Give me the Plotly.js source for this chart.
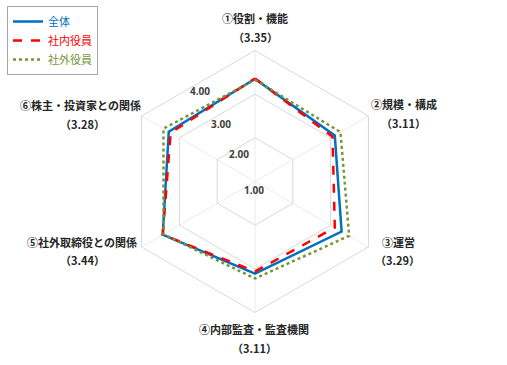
<!DOCTYPE html>
<html>
<head>
<meta charset="utf-8">
<script src="https://cdn.plot.ly/plotly-3.0.1.min.js"></script>
<style>html,body{margin:0;padding:0;background:#fff;}#chart{width:507px;height:365px;}</style>
</head>
<body>
<div id="chart"></div>
<script>
// ---- data ----
const categories = ['①役割・機能','②規模・構成','③運営','④内部監査・監査機関','⑤社外取締役との関係','⑥株主・投資家との関係'];
const seriesNames = ['全体','社内役員','社外役員'];
const overall  = [3.35, 3.11, 3.29, 3.11, 3.44, 3.28];
const insider  = [3.36, 3.05, 3.11, 3.06, 3.44, 3.23];
const outsider = [3.33, 3.26, 3.49, 3.22, 3.42, 3.42];
const radialTicks = [1, 2, 3, 4];
const radialTickLabels = ['1.00','2.00','3.00','4.00'];

// ---- styling / layout ----
const colors = ['#0070C0', '#FF0000', '#77933C'];
const dashes = ['solid', 'dash', 'dot'];
const W = 507, H = 365;
const cx = 255, cy = 181.5, R = 131;

function closed(a){ return a.concat([a[0]]); }
const theta = closed(categories);

const traces = [overall, insider, outsider].map((vals, i) => ({
  type: 'scatterpolar',
  r: closed(vals),
  theta: theta,
  mode: 'lines',
  name: '<span style="color:' + colors[i] + '">' + seriesNames[i] + '</span>',
  line: {color: colors[i], width: 2.5, dash: dashes[i]},
  hoverinfo: 'skip'
}));

// category label positions (pixels, center of text)
const labelPos = [
  [[255,18],[255,37]],
  [[404,104],[403,123]],
  [[398,242],[397,260]],
  [[254,329],[254,348]],
  [[82,242],[82,260]],
  [[80,105],[82,124]]
];
const tickPos = [[254,190],[239,154],[221,124],[200,91]];

const annFont = {family: '"Noto Sans CJK JP", "Noto Sans", sans-serif', size: 11, color: '#262626', weight: 'bold'};
const annotations = [];
categories.forEach((c, i) => {
  annotations.push({xref:'paper', yref:'paper', x: labelPos[i][0][0]/W, y: 1 - labelPos[i][0][1]/H,
    xanchor:'center', yanchor:'middle', showarrow:false, text: c, font: annFont});
  annotations.push({xref:'paper', yref:'paper', x: labelPos[i][1][0]/W, y: 1 - labelPos[i][1][1]/H,
    xanchor:'center', yanchor:'middle', showarrow:false, text: '（' + overall[i].toFixed(2) + '）', font: annFont});
});
radialTickLabels.forEach((t, i) => {
  annotations.push({xref:'paper', yref:'paper', x: tickPos[i][0]/W, y: 1 - tickPos[i][1]/H,
    xanchor:'center', yanchor:'middle', showarrow:false, text: t,
    font: {family: '"Noto Sans", sans-serif', size: 10, color: '#404040', weight: 'bold'}});
});

const layout = {
  width: W, height: H,
  margin: {l:0, r:0, t:0, b:0},
  paper_bgcolor: '#ffffff',
  showlegend: true,
  legend: {
    x: 7/W, y: 1 - 6/H, xanchor: 'left', yanchor: 'top',
    bordercolor: '#a6a6a6', borderwidth: 1, bgcolor: '#ffffff',
    font: {family: '"Noto Sans CJK JP", sans-serif', size: 11},
    tracegroupgap: 0
  },
  polar: {
    domain: {x: [(cx - R)/W, (cx + R)/W], y: [(H - cy - R)/H, (H - cy + R)/H]},
    bgcolor: '#ffffff',
    gridshape: 'linear',
    radialaxis: {
      range: [1, 4], tickvals: radialTicks, showticklabels: false, ticks: '',
      showline: false, gridcolor: '#d9d9d9', gridwidth: 1, angle: 90
    },
    angularaxis: {
      direction: 'clockwise', rotation: 90, showticklabels: false, ticks: '',
      showline: true, linecolor: '#d9d9d9', linewidth: 1,
      gridcolor: '#ececec', gridwidth: 1
    }
  },
  annotations: annotations
};

Plotly.newPlot('chart', traces, layout, {displayModeBar: false, staticPlot: true});
</script>
</body>
</html>
